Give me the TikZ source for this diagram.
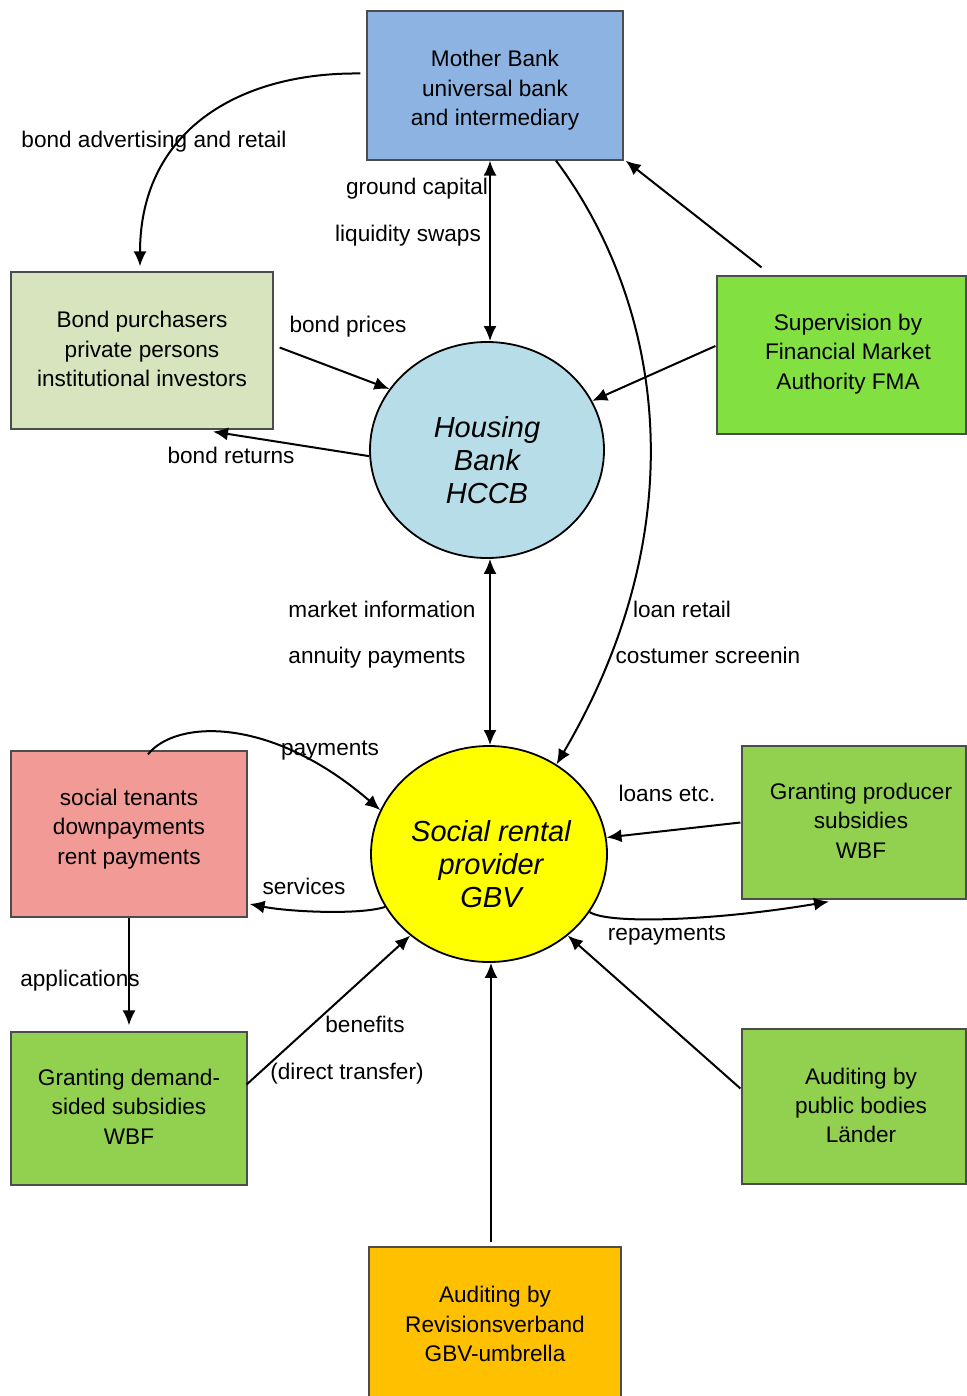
\documentclass[tikz,border=0pt]{standalone}
\usepackage{fontspec}
\setmainfont{Liberation Sans}
\usetikzlibrary{arrows.meta,shapes.geometric,calc}
\definecolor{cMother}{HTML}{8DB3E2}
\definecolor{cBond}{HTML}{D7E4BD}
\definecolor{cHousing}{HTML}{B7DDE8}
\definecolor{cSuper}{HTML}{82E041}
\definecolor{cSocial}{HTML}{FFFF00}
\definecolor{cTenant}{HTML}{F29B96}
\definecolor{cGreen}{HTML}{92D050}
\definecolor{cOrange}{HTML}{FFC000}
\begin{document}
\begin{tikzpicture}[x=0.5pt,y=-0.5pt,
  box/.style={draw=black!70, line width=0.6pt, rectangle, inner sep=0pt},
  ell/.style={draw=black, line width=0.9pt, ellipse, inner sep=0pt},
  txt/.style={font=\fontsize{11.3}{14.7}\selectfont, align=center, inner sep=0pt},
  ctxt/.style={font=\fontsize{14.5}{16.5}\selectfont\itshape, align=center, inner sep=0pt},
  lbl/.style={font=\fontsize{11.3}{13}\selectfont, inner sep=0pt, text height=8.2pt, text depth=2.4pt, yshift=-1.5pt},
  tip/.tip={Latex[length=7.5pt,width=6.5pt]},
  con/.style={line width=1pt, -tip},
  dcon/.style={line width=1pt, tip-tip},
]
\useasboundingbox (0,0) rectangle (967,1396);

% nodes
\node[box, fill=cMother, minimum width=128pt, minimum height=74.5pt,
  label={[txt, yshift=-2.5pt]center:Mother Bank\\universal bank\\and intermediary}] (mb) at (495,85.5) {};
\node[box, fill=cBond, minimum width=131pt, minimum height=78.5pt,
  label={[txt, yshift=0.75pt]center:Bond purchasers\\private persons\\institutional investors}] (bp) at (142,350.5) {};
\node[box, fill=cSuper, minimum width=124.5pt, minimum height=79pt,
  label={[txt, xshift=3.25pt, yshift=0.5pt]center:Supervision by\\Financial Market\\Authority FMA}] (sup) at (841.5,355) {};
\node[ell, fill=cHousing, minimum width=117pt, minimum height=108pt,
  label={[ctxt, yshift=-5.25pt]center:Housing\\Bank\\HCCB}] (hb) at (487,450) {};
\node[ell, fill=cSocial, minimum width=118pt, minimum height=108pt,
  label={[ctxt, xshift=1pt, yshift=-5pt]center:Social rental\\provider\\GBV}] (srp) at (489,854) {};
\node[box, fill=cTenant, minimum width=118pt, minimum height=83pt,
  label={[txt, yshift=2.5pt]center:social tenants\\downpayments\\rent payments}] (st) at (129,834) {};
\node[box, fill=cGreen, minimum width=112pt, minimum height=76.5pt,
  label={[txt, xshift=3.5pt, yshift=1pt]center:Granting producer\\subsidies\\WBF}] (gp) at (854,822.5) {};
\node[box, fill=cGreen, minimum width=118pt, minimum height=76.5pt,
  label={[txt, yshift=1pt]center:Granting demand-\\sided subsidies\\WBF}] (gd) at (129,1108.5) {};
\node[box, fill=cGreen, minimum width=112pt, minimum height=77.5pt,
  label={[txt, xshift=3.5pt, yshift=0.5pt]center:Auditing by\\public bodies\\L\"ander}] (ap) at (854,1106.5) {};
\node[box, fill=cOrange, minimum width=126pt, minimum height=77pt,
  label={[txt]center:Auditing by\\Revisionsverband\\GBV-umbrella}] (rv) at (495,1324) {};

% edge labels
\node[lbl] (l1) at (154,139) {bond advertising and retail};
\node[lbl] (l2) at (417,186) {ground capital};
\node[lbl] (l3) at (408,233) {liquidity swaps};
\node[lbl] (l4) at (348,324) {bond prices};
\node[lbl] (l5) at (231,455) {bond returns};
\node[lbl] (l6) at (382,609) {market information};
\node[lbl] (l7) at (377,655) {annuity payments};
\node[lbl] (l8) at (682,609) {loan retail};
\node[lbl] (l9) at (708,655) {costumer screenin};
\node[lbl] (l10) at (330,747) {payments};
\node[lbl] (l11) at (304,886) {services};
\node[lbl] (l12) at (667,793) {loans etc.};
\node[lbl] (l13) at (667,932) {repayments};
\node[lbl] (l14) at (80,978) {applications};
\node[lbl] (l15) at (365,1024) {benefits};
\node[lbl] (l16) at (347,1071) {(direct transfer)};

% connectors
\draw[con] ($(mb.west)+(-6,-12)$) .. controls (240,72) and (140,130) .. ($(bp.north)+(-2,-5)$);
\draw[dcon] ($(mb.south)+(-5,0)$) -- ($(hb.north)+(3,0)$);
\draw[con] ($(mb.south)+(61,0)$) .. controls (660,300) and (700,520) .. (srp.53);
\draw[con] ($(sup.north)+(-80,-8)$) -- ($(mb.south east)+(2,0)$);
\draw[con] ($(sup.west)+(-1,-9)$) -- (hb.25);
\draw[con] ($(bp.east)+(6,-3)$) -- (hb.148);
\draw[con] (hb.183) -- ($(bp.south)+(71,2)$);
\draw[dcon] ($(hb.south)+(3,0)$) -- ($(srp.north)+(1,0)$);
\draw[con] ($(st.north)+(19,4)$) .. controls (175,720) and (270,715) .. (srp.158);
\draw[con] (srp.207) .. controls (360,915) and (290,912) .. ($(st.east)+(2,70)$);
\draw[con] ($(gp.west)+(-1,0)$) -- (srp.8);
\draw[con] (srp.-30) .. controls (610,925) and (720,920) .. ($(gp.south)+(-25,2)$);
\draw[con] (st.south) -- ($(gd.north)+(0,-6)$);
\draw[con] ($(gd.east)+(-1,-24)$) -- (srp.226);
\draw[con] ($(ap.west)+(-1,-18)$) -- (srp.-46);
\draw[con] ($(rv.north)+(-4,-4)$) -- ($(srp.south)+(2,0)$);
\end{tikzpicture}
\end{document}
